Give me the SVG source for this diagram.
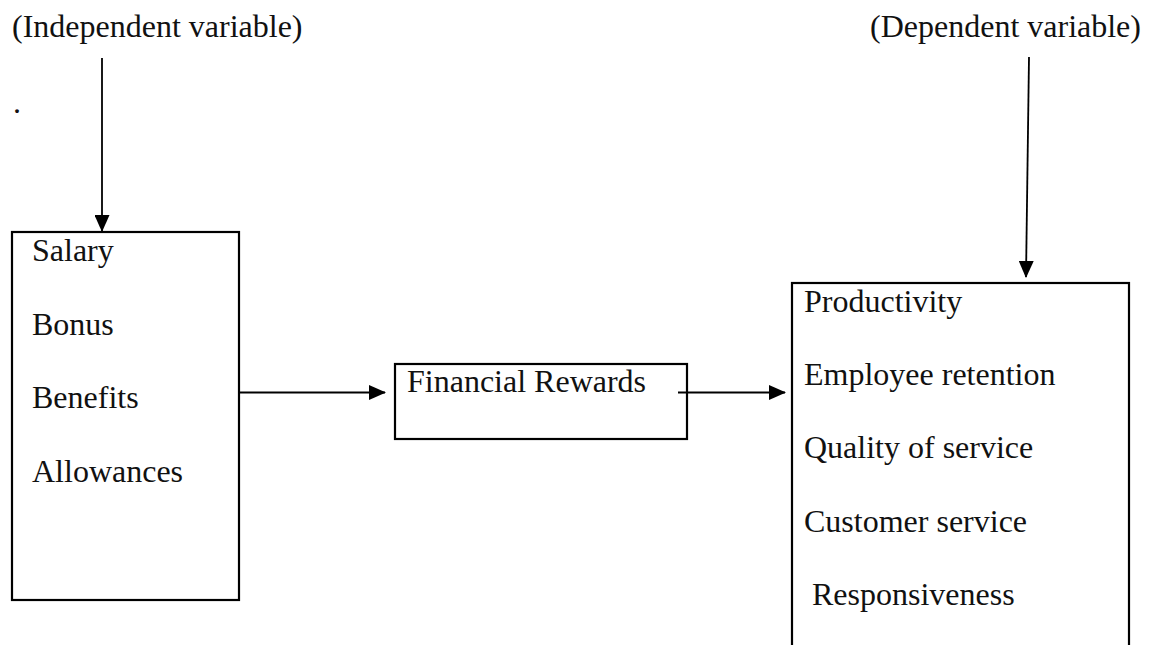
<svg xmlns="http://www.w3.org/2000/svg" width="1157" height="645" viewBox="0 0 1157 645">
<style>
text{font-family:"Liberation Serif","Times New Roman",serif;font-size:32px;fill:#111}
.box{fill:#fff;stroke:#000;stroke-width:2.2}
.conn{stroke:#000;stroke-width:1.8;fill:none}
</style>
<defs>
<marker id="ah" viewBox="0 0 17 15" refX="16" refY="7.5" markerWidth="17" markerHeight="15" markerUnits="userSpaceOnUse" orient="auto">
<path d="M0,0 L17,7.5 L0,15 Z" fill="#000"/>
</marker>
</defs>
<rect width="1157" height="645" fill="#fff"/>
<g id="label-independent"><text x="12" y="37">(Independent variable)</text></g>
<g id="label-dependent"><text x="870" y="37">(Dependent variable)</text></g>
<g id="dot"><text x="13" y="113">.</text></g>
<g id="node-inputs">
<rect class="box" x="12" y="232" width="227" height="368"/>
<text x="32" y="261">Salary</text>
<text x="32" y="334.5">Bonus</text>
<text x="32" y="408">Benefits</text>
<text x="32" y="481.5">Allowances</text>
</g>
<g id="node-financial">
<rect class="box" x="395" y="364" width="292" height="75"/>
<text x="407" y="392">Financial Rewards</text>
</g>
<g id="node-outcomes">
<rect class="box" x="792" y="283" width="337" height="380"/>
<text x="804" y="312">Productivity</text>
<text x="804" y="385">Employee retention</text>
<text x="804" y="458">Quality of service</text>
<text x="804" y="531.5">Customer service</text>
<text x="804" y="605" xml:space="preserve"> Responsiveness</text>
</g>
<g id="connectors">
<line class="conn" x1="102" y1="58" x2="102" y2="231" marker-end="url(#ah)"/>
<line class="conn" x1="1029" y1="57" x2="1026" y2="277" marker-end="url(#ah)"/>
<line class="conn" x1="239" y1="392.5" x2="385" y2="392.5" marker-end="url(#ah)"/>
<line class="conn" x1="678" y1="392.5" x2="785" y2="392.5" marker-end="url(#ah)"/>
</g>
</svg>
